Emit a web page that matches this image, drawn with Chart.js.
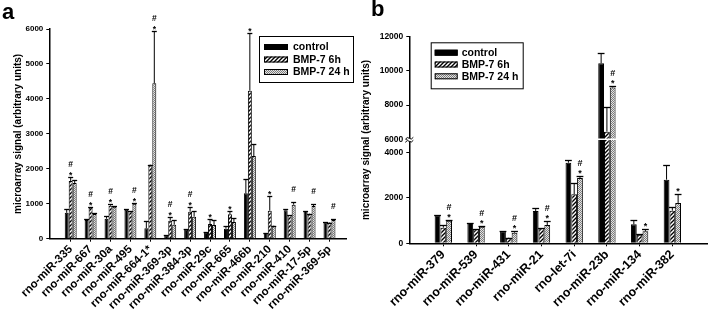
<!DOCTYPE html>
<html lang="en">
<head>
  <meta charset="UTF-8">
  <title>miRNA microarray signal</title>
  <style>
    body { margin: 0; background: #fff; }
    #wrap { position: relative; width: 708px; height: 314px; overflow: hidden; font-family: "Liberation Sans", Arial, sans-serif; }
    .panel { position: absolute; top: 0; height: 314px; }
    .letter { position: absolute; font-weight: bold; font-size: 22px; line-height: 22px; }
  </style>
</head>
<body>
  <div id="wrap">
    <div class="panel" style="left:0;width:358px"><canvas id="chartA"></canvas></div>
    <div class="panel" style="left:358px;width:350px"><canvas id="chartB"></canvas></div>
    <div class="letter" style="left:2px;top:1px">a</div>
    <div class="letter" style="left:371px;top:-2px">b</div>
  </div>

  <script src="https://cdn.jsdelivr.net/npm/chart.js"></script>

  <script>
    // panel a
    const categoriesA = ['rno-miR-335', 'rno-miR-667', 'rno-miR-30a', 'rno-miR-495', 'rno-miR-664-1*',
      'rno-miR-369-3p', 'rno-miR-384-3p', 'rno-miR-29c', 'rno-miR-665', 'rno-miR-466b',
      'rno-miR-210', 'rno-miR-410', 'rno-miR-17-5p', 'rno-miR-369-5p'];
    const controlA = [740, 535, 572, 830, 297, 97, 258, 172, 286, 1299, 163, 813, 792, 469];
    const controlErrA = [100, 20, 78, 20, 218, 5, 6, 8, 86, 401, 5, 27, 5, 5];
    const h6A = [1651, 887, 944, 792, 2117, 515, 773, 420, 698, 4234, 801, 678, 716, 460];
    const h6ErrA = [123, 29, 40, 0, 0, 97, 143, 152, 94, 1643, 429, 0, 0, 0];
    const h24A = [1595, 707, 916, 1001, 4446, 400, 630, 392, 478, 2366, 372, 973, 935, 535];
    const h24ErrA = [85, 19, 9, 29, 1497, 135, 154, 143, 106, 335, 0, 77, 58, 29];
    const marks6hA = ['*#', '*#', '*#', '', '', '*#', '*#', '*', '*', '*', '*', '', '', ''];
    const marks24hA = ['', '', '', '*#', '*#', '', '', '', '', '', '', '#', '#', '#'];
    const ticksA = [0, 1000, 2000, 3000, 4000, 5000, 6000];

    // panel b
    const categoriesB = ['rno-miR-379', 'rno-miR-539', 'rno-miR-431', 'rno-miR-21', 'rno-let-7i',
      'rno-miR-23b', 'rno-miR-134', 'rno-miR-382'];
    const controlB = [1231, 892, 527, 1420, 3543, 10444, 835, 2797];
    const controlErrB = [10, 10, 10, 118, 100, 600, 176, 632];
    const h6B = [686, 615, 246, 659, 2160, 6444, 378, 1434];
    const h6ErrB = [105, 30, 0, 0, 485, 1450, 10, 176];
    const h24B = [993, 730, 466, 804, 2870, 9030, 527, 1773];
    const h24ErrB = [27, 30, 61, 189, 88, 60, 116, 381];
    const marks24hB = ['*#', '*#', '*#', '*#', '*#', '*#', '*', '*'];
    const ticksB = [0, 2000, 4000, 6000, 8000, 10000, 12000];

    const seriesNames = ['control', 'BMP-7 6h', 'BMP-7 24 h'];
    const FONT = '"Liberation Sans", Arial, sans-serif';

    Chart.defaults.font.family = FONT;
    Chart.defaults.font.weight = 'bold';
    Chart.defaults.color = '#000';

    function makeTile(size, draw) {
      const c = document.createElement('canvas');
      c.width = size; c.height = size;
      const g = c.getContext('2d');
      draw(g, size);
      return document.createElement('canvas').getContext('2d').createPattern(c, 'repeat');
    }
    const hatch = makeTile(4, (g, s) => {
      g.fillStyle = '#fff'; g.fillRect(0, 0, s, s);
      g.strokeStyle = '#000'; g.lineWidth = 1.4;
      g.beginPath();
      g.moveTo(-1, s + 1); g.lineTo(s + 1, -1);
      g.moveTo(-1, 1); g.lineTo(1, -1);
      g.moveTo(s - 1, s + 1); g.lineTo(s + 1, s - 1);
      g.stroke();
    });
    const dots = makeTile(2, (g) => {
      g.fillStyle = '#e4e4e4'; g.fillRect(0, 0, 2, 2);
      g.fillStyle = '#7c7c7c'; g.fillRect(0, 0, 1, 1); g.fillRect(1, 1, 1, 1);
    });
    const fills = ['#000', hatch, dots];

    // piecewise linear axis for the broken y axis in panel b
    class BrokenLinearScale extends Chart.LinearScale {
      toDecimal(v) {
        const b = this.options.brk;
        if (v <= b.low) return v / b.low * b.lowFrac;
        if (v >= b.high) return b.highFrac + (v - b.high) / (this.max - b.high) * (1 - b.highFrac);
        return b.lowFrac + (v - b.low) / (b.high - b.low) * (b.highFrac - b.lowFrac);
      }
      getPixelForValue(value) {
        return this.getPixelForDecimal(this.toDecimal(value));
      }
      getValueForPixel(pixel) {
        const b = this.options.brk;
        const d = this.getDecimalForPixel(pixel);
        if (d <= b.lowFrac) return d / b.lowFrac * b.low;
        if (d >= b.highFrac) return b.high + (d - b.highFrac) / (1 - b.highFrac) * (this.max - b.high);
        return b.low + (d - b.lowFrac) / (b.highFrac - b.lowFrac) * (b.high - b.low);
      }
    }
    BrokenLinearScale.id = 'brokenLinear';
    BrokenLinearScale.defaults = {};
    Chart.register(BrokenLinearScale);

    const errorBars = {
      id: 'errorBars',
      afterDatasetsDraw(chart, args, opts) {
        const ctx = chart.ctx;
        const y = chart.scales.y;
        ctx.save();
        ctx.strokeStyle = '#000';
        ctx.fillStyle = '#000';
        ctx.textAlign = 'center';
        ctx.textBaseline = 'alphabetic';
        ctx.font = 'bold ' + opts.markSize + 'px ' + FONT;
        chart.data.datasets.forEach((ds, i) => {
          chart.getDatasetMeta(i).data.forEach((bar, j) => {
            const top = Math.round(y.getPixelForValue(ds.data[j].y + ds.errors[j])) + 0.5;
            const half = bar.width / 2 + 0.5;
            ctx.lineWidth = 1;
            ctx.beginPath();
            ctx.moveTo(bar.x, bar.y);
            ctx.lineTo(bar.x, top);
            ctx.stroke();
            ctx.lineWidth = 1.3;
            ctx.beginPath();
            ctx.moveTo(bar.x - half, top);
            ctx.lineTo(bar.x + half, top);
            ctx.stroke();
            const m = ds.marks[j];
            if (m.includes('*')) ctx.fillText('*', bar.x, top + opts.starShift);
            if (m.includes('#')) ctx.fillText('#', bar.x, top + opts.hashShift);
          });
        });
        ctx.restore();
      }
    };

    const boxLegend = {
      id: 'boxLegend',
      afterDraw(chart, args, o) {
        const ctx = chart.ctx;
        ctx.save();
        ctx.strokeStyle = '#000';
        ctx.lineWidth = 1;
        ctx.strokeRect(o.x + 0.5, o.y + 0.5, o.w, o.h);
        ctx.font = 'bold ' + o.fontSize + 'px ' + FONT;
        ctx.textBaseline = 'middle';
        chart.data.datasets.forEach((ds, i) => {
          const cy = o.y + o.rows[i];
          ctx.fillStyle = ds.backgroundColor;
          ctx.fillRect(o.x + o.swX, cy - o.swH / 2, o.swW, o.swH);
          ctx.strokeRect(o.x + o.swX + 0.5, cy - o.swH / 2 + 0.5, o.swW - 1, o.swH - 1);
          ctx.fillStyle = '#000';
          ctx.fillText(ds.label, o.x + o.textX, cy + 0.5);
        });
        ctx.restore();
      }
    };

    const axisBreak = {
      id: 'axisBreak',
      afterDatasetsDraw(chart, args, o) {
        if (!o.value) return;
        const {ctx, chartArea, scales: {y}} = chart;
        const yb = y.getPixelForValue(o.value);
        ctx.save();
        ctx.strokeStyle = '#fff';
        ctx.lineWidth = 1.5;
        ctx.beginPath();
        ctx.moveTo(chartArea.left + 2, yb);
        ctx.lineTo(chartArea.right, yb);
        ctx.stroke();
        ctx.restore();
      },
      afterDraw(chart, args, o) {
        if (!o.value) return;
        const {ctx, chartArea, scales: {y}} = chart;
        const yb = y.getPixelForValue(o.value);
        const x = chartArea.left;
        ctx.save();
        ctx.fillStyle = '#fff';
        ctx.fillRect(x - 2, yb - 1, 4, 3);
        ctx.strokeStyle = '#000';
        ctx.lineWidth = 1;
        [yb - 1, yb + 2].forEach(yy => {
          ctx.beginPath();
          ctx.moveTo(x - 4, yy + 1);
          ctx.quadraticCurveTo(x - 2, yy - 2, x, yy);
          ctx.quadraticCurveTo(x + 2, yy + 2, x + 4, yy - 1);
          ctx.stroke();
        });
        ctx.restore();
      }
    };

    function dataset(i, values, errors, marks) {
      return {
        label: seriesNames[i],
        data: values.map((v, k) => ({x: k, y: v})),
        errors: errors,
        marks: marks,
        backgroundColor: fills[i],
        borderColor: '#000',
        borderWidth: 1
      };
    }

    function makeChart(id, cfg) {
      return new Chart(document.getElementById(id), {
        type: 'bar',
        data: {datasets: cfg.datasets},
        options: {
          responsive: true,
          maintainAspectRatio: false,
          animation: false,
          categoryPercentage: cfg.catPct,
          barPercentage: 1,
          layout: {padding: {top: cfg.top, right: cfg.right, left: 0, bottom: 0}},
          events: [],
          scales: {
            x: {
              type: 'linear',
              bounds: 'data',
              offset: false,
              min: cfg.xMin,
              max: cfg.xMax,
              afterBuildTicks: s => { s.ticks = cfg.categories.map((c, k) => ({value: k})); },
              afterFit: s => { s.height = cfg.xHeight; },
              ticks: {
                autoSkip: false,
                minRotation: 45,
                maxRotation: 45,
                padding: 1,
                font: {size: cfg.catSize, weight: 'bold'},
                callback: v => cfg.categories[v]
              },
              grid: {display: true, offset: false, drawOnChartArea: false, drawTicks: true, tickLength: 3, color: '#000'},
              border: {display: true, color: '#000', width: 1.5}
            },
            y: {
              type: cfg.yType,
              min: 0,
              max: cfg.yTicks[cfg.yTicks.length - 1],
              brk: cfg.brk,
              afterBuildTicks: s => { s.ticks = cfg.yTicks.map(v => ({value: v})); },
              afterFit: s => { s.width = cfg.yWidth; },
              ticks: {
                autoSkip: false,
                padding: 3,
                font: {size: cfg.tickSize, weight: 'bold'},
                callback: v => String(v)
              },
              grid: {display: true, drawOnChartArea: false, drawTicks: true, tickLength: 3, color: '#000'},
              border: {display: true, color: '#000', width: 1.5},
              title: {
                display: true,
                text: 'microarray signal (arbitrary units)',
                font: {size: 10, weight: 'bold'},
                padding: {top: cfg.titlePad, bottom: 0}
              }
            }
          },
          plugins: {
            legend: {display: false},
            tooltip: {enabled: false},
            errorBars: cfg.errorOpts,
            boxLegend: cfg.legend,
            axisBreak: {value: cfg.breakAt}
          }
        },
        plugins: [errorBars, boxLegend, axisBreak]
      });
    }

    makeChart('chartA', {
      categories: categoriesA,
      datasets: [
        dataset(0, controlA, controlErrA, controlA.map(() => '')),
        dataset(1, h6A, h6ErrA, marks6hA),
        dataset(2, h24A, h24ErrA, marks24hA)
      ],
      catPct: 0.6,
      top: 29, right: 12,
      xMin: -1.075, xMax: 13.83, xHeight: 75.3,
      catSize: 11.5, tickSize: 8,
      yType: 'linear', yTicks: ticksA, yWidth: 49.3, titlePad: 12,
      errorOpts: {markSize: 8.5, starShift: 0.5, hashShift: -11},
      legend: {x: 259, y: 36, w: 94, h: 46, rows: [11, 23.5, 36], swX: 5, swW: 24, swH: 6, textX: 34, fontSize: 10.5},
      breakAt: 0
    });

    makeChart('chartB', {
      categories: categoriesB,
      datasets: [
        dataset(0, controlB, controlErrB, controlB.map(() => '')),
        dataset(1, h6B, h6ErrB, h6B.map(() => '')),
        dataset(2, h24B, h24ErrB, marks24hB)
      ],
      catPct: 0.53,
      top: 36.7, right: 0,
      xMin: -1.04, xMax: 8.09, xHeight: 70.7,
      catSize: 12.5, tickSize: 8.5,
      yType: 'brokenLinear', yTicks: ticksB, yWidth: 51.3, titlePad: 2,
      brk: {low: 4000, high: 6000, lowFrac: 0.4405, highFrac: 0.5034},
      errorOpts: {markSize: 9, starShift: -1, hashShift: -10.5},
      legend: {x: 72.7, y: 42.3, w: 92, h: 46, rows: [10.4, 22.2, 34], swX: 4, swW: 23, swH: 6, textX: 31, fontSize: 10.5},
      breakAt: 6000
    });
  </script>
</body>
</html>
